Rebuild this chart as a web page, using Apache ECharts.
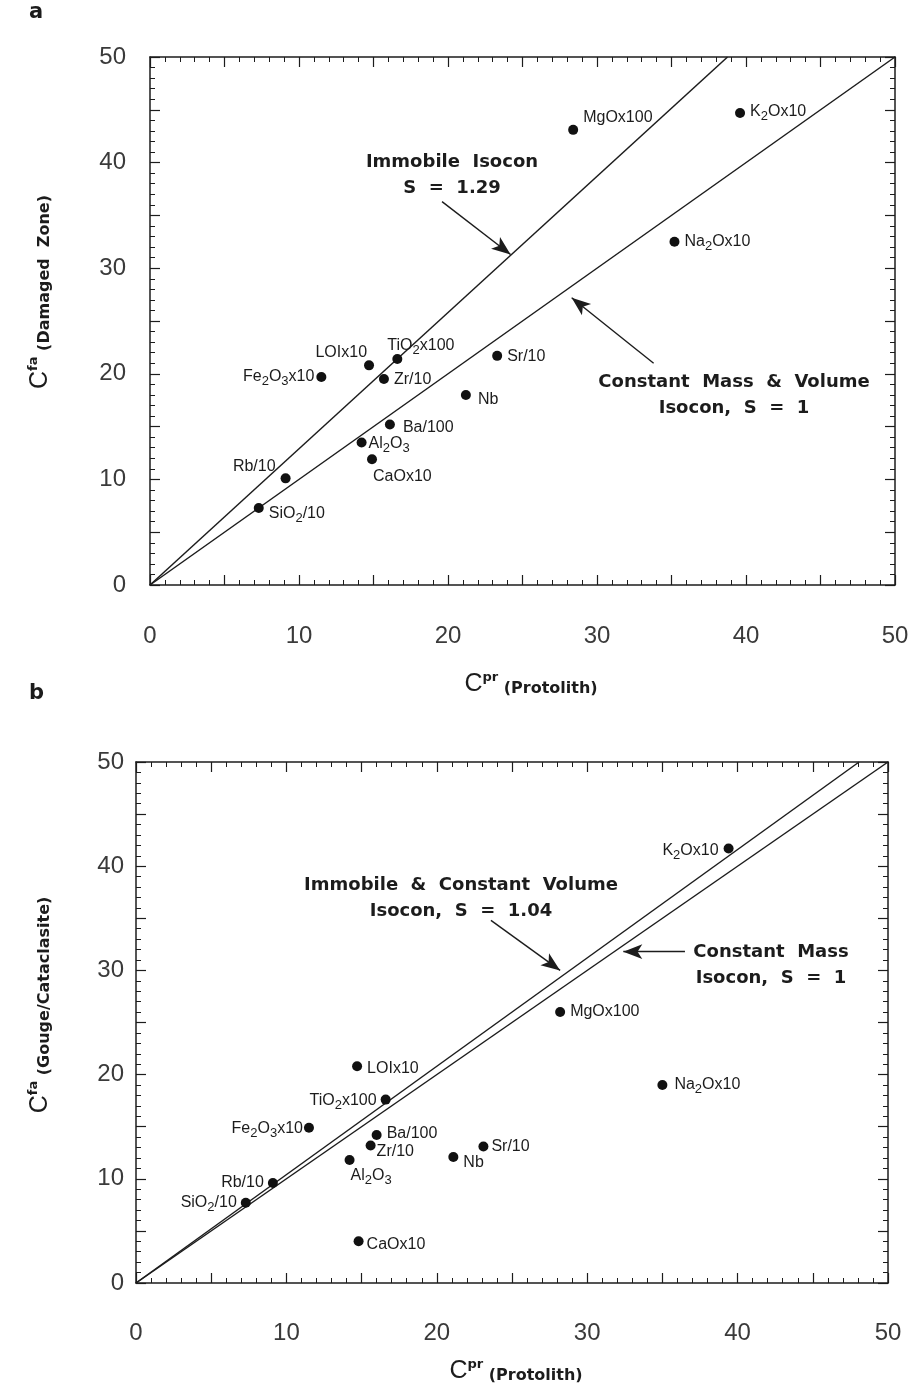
<!DOCTYPE html>
<html>
<head>
<meta charset="utf-8">
<script src="https://cdn.jsdelivr.net/npm/echarts@6/dist/echarts.min.js"></script>
<style>
  html, body { margin: 0; padding: 0; background: #ffffff; }
  #chart { width: 923px; height: 1386px; }
</style>
</head>
<body>
<div id="chart"></div>
<script>
// ---- data ----------------------------------------------------------------
const tickValues = [0, 10, 20, 30, 40, 50];

// panel a: protolith vs. damaged zone
const aLabels = ['MgOx100', 'K{s|2}Ox10', 'Na{s|2}Ox10', 'Sr/10', 'Nb', 'TiO{s|2}x100', 'LOIx10',
                 'Zr/10', 'Fe{s|2}O{s|3}x10', 'Ba/100', 'Al{s|2}O{s|3}', 'CaOx10', 'Rb/10', 'SiO{s|2}/10'];
const aProtolith = [28.4, 39.6, 35.2, 23.3, 21.2, 16.6, 14.7, 15.7, 11.5, 16.1, 14.2, 14.9, 9.1, 7.3];
const aDamaged   = [43.1, 44.7, 32.5, 21.7, 18.0, 21.4, 20.8, 19.5, 19.7, 15.2, 13.5, 11.9, 10.1, 7.3];
const aIsoconSlopes = [1.29, 1];

// panel b: protolith vs. gouge / cataclasite
const bLabels = ['LOIx10', 'TiO{s|2}x100', 'Fe{s|2}O{s|3}x10', 'Ba/100', 'Zr/10', 'Al{s|2}O{s|3}', 'Nb',
                 'Sr/10', 'Rb/10', 'SiO{s|2}/10', 'CaOx10', 'K{s|2}Ox10', 'MgOx100', 'Na{s|2}Ox10'];
const bProtolith = [14.7, 16.6, 11.5, 16.0, 15.6, 14.2, 21.1, 23.1, 9.1, 7.3, 14.8, 39.4, 28.2, 35.0];
const bGouge     = [20.8, 17.6, 14.9, 14.2, 13.2, 11.8, 12.1, 13.1, 9.6, 7.7, 4.0, 41.7, 26.0, 19.0];
const bIsoconSlopes = [1.04, 1];

// ---- label placement (pixel offsets from each dot) -----------------------
const aLabelPlace = [
  [10, -12, 'left'], [10, -1, 'left'], [10, 0, 'left'], [10, 1, 'left'], [12, 5, 'left'],
  [-10, -13, 'left'], [-2, -13, 'right'], [10, 1, 'left'], [-7, 0, 'right'], [13, 3, 'left'],
  [7, 1, 'left'], [1, 17, 'left'], [-10, -12, 'right'], [10, 6, 'left']
];
const bLabelPlace = [
  [10, 2, 'left'], [-9, 1, 'right'], [-6, 1, 'right'], [10, -1, 'left'], [6, 6, 'left'],
  [1, 16, 'left'], [10, 6, 'left'], [8, 0, 'left'], [-9, 0, 'right'], [-9, 0, 'right'],
  [8, 3, 'left'], [-10, 2, 'right'], [10, 0, 'left'], [12, 0, 'left']
];

// arrow annotations in axis units: [fromX, fromY, toX, toY]
const aArrows = [[19.6, 36.3, 24.2, 31.3], [33.8, 21.0, 28.3, 27.2]];
const bArrows = [[23.6, 34.8, 28.2, 30.0], [36.5, 31.8, 32.4, 31.8]];

// ---- styling helpers -----------------------------------------------------
const INK = '#1c1c1c';
const SANS = 'Liberation Sans, Arial, sans-serif';
const BOLD = 'DejaVu Sans, Verdana, sans-serif';
const AXIS_MAX = tickValues[tickValues.length - 1];

const grids = [
  { left: 150, top: 57, width: 745, height: 528 },
  { left: 136, top: 762, width: 752, height: 521 }
];

function tickLabel(v) {
  return tickValues.indexOf(v) >= 0 ? String(v) : '';
}

function makeAxis(gridIndex, position, withLabels, labelMargin) {
  return {
    type: 'value',
    gridIndex: gridIndex,
    position: position,
    min: 0,
    max: AXIS_MAX,
    interval: 5,
    splitLine: { show: false },
    axisLine: { show: true, onZero: false, lineStyle: { color: INK, width: 1.5 } },
    axisTick: { show: true, inside: true, length: 10, lineStyle: { color: INK, width: 1.2 } },
    minorTick: { show: true, splitNumber: 5, length: 5, lineStyle: { color: INK, width: 1 } },
    minorSplitLine: { show: false },
    axisLabel: withLabels ? {
      show: true,
      margin: labelMargin,
      formatter: tickLabel,
      fontFamily: SANS,
      fontSize: 24,
      color: '#3a3a3a',
      showMinLabel: true,
      showMaxLabel: true
    } : { show: false }
  };
}

// per grid: bottom / left carry the labels, top / right only the frame ticks
const xAxes = [
  makeAxis(0, 'bottom', true, 39),
  makeAxis(0, 'top', false, 0),
  makeAxis(1, 'bottom', true, 38),
  makeAxis(1, 'top', false, 0)
];
const yAxes = [
  makeAxis(0, 'left', true, 24),
  makeAxis(0, 'right', false, 0),
  makeAxis(1, 'left', true, 12),
  makeAxis(1, 'right', false, 0)
];
const PANEL_A_AXIS = 0;
const PANEL_B_AXIS = 2;

const pointRich = {
  s: { fontSize: 13, lineHeight: 10, verticalAlign: 'bottom', fontFamily: SANS, color: INK }
};

function pointSeries(axisIndex, xs, ys, labels, place) {
  return {
    type: 'scatter',
    xAxisIndex: axisIndex,
    yAxisIndex: axisIndex,
    symbol: 'circle',
    symbolSize: 10,
    itemStyle: { color: '#111', opacity: 1 },
    silent: true,
    z: 5,
    data: xs.map(function (x, i) {
      const p = place[i];
      return {
        value: [x, ys[i]],
        label: {
          show: true,
          position: 'inside',
          offset: [p[0], p[1]],
          align: p[2],
          verticalAlign: 'middle',
          formatter: labels[i],
          fontFamily: SANS,
          fontSize: 16,
          lineHeight: 22,
          color: INK,
          rich: pointRich
        }
      };
    })
  };
}

function isoconSeries(axisIndex, slope, arrows) {
  // line through the origin, clipped where it leaves the plot box
  const endX = Math.min(AXIS_MAX, AXIS_MAX / slope);
  const s = {
    type: 'line',
    xAxisIndex: axisIndex,
    yAxisIndex: axisIndex,
    showSymbol: false,
    symbol: 'none',
    silent: true,
    lineStyle: { color: INK, width: 1.5, opacity: 1 },
    data: [[0, 0], [endX, endX * slope]],
    z: 3
  };
  if (arrows) {
    s.markLine = {
      silent: true,
      animation: false,
      symbol: ['none', 'arrow'],
      symbolSize: [11, 19],
      lineStyle: { color: INK, width: 1.4, type: 'solid', opacity: 1 },
      label: { show: false },
      data: arrows.map(function (a) {
        return [{ coord: [a[0], a[1]] }, { coord: [a[2], a[3]] }];
      })
    };
  }
  return s;
}

const series = [
  isoconSeries(PANEL_A_AXIS, aIsoconSlopes[0], aArrows),
  isoconSeries(PANEL_A_AXIS, aIsoconSlopes[1], null),
  isoconSeries(PANEL_B_AXIS, bIsoconSlopes[0], bArrows),
  isoconSeries(PANEL_B_AXIS, bIsoconSlopes[1], null),
  pointSeries(PANEL_A_AXIS, aProtolith, aDamaged, aLabels, aLabelPlace),
  pointSeries(PANEL_B_AXIS, bProtolith, bGouge, bLabels, bLabelPlace)
];

// ---- text: panel letters, axis titles, isocon notes ----------------------
const titleRich = {
  c: { fontFamily: SANS, fontSize: 25, lineHeight: 26, color: INK },
  sup: { fontFamily: BOLD, fontWeight: 'bold', fontSize: 13, lineHeight: 12, verticalAlign: 'top', color: INK },
  p: { fontFamily: BOLD, fontWeight: 'bold', fontSize: 16, lineHeight: 21, verticalAlign: 'bottom', color: INK }
};

function titleText(x, y, text, rotate) {
  return {
    type: 'text',
    x: x, y: y,
    rotation: rotate ? Math.PI / 2 : 0,
    silent: true,
    style: { text: text, rich: titleRich, align: 'center', verticalAlign: 'middle', fill: INK }
  };
}

function noteText(x, y, text) {
  return {
    type: 'text',
    x: x, y: y,
    silent: true,
    style: {
      text: text,
      align: 'center',
      verticalAlign: 'middle',
      fontFamily: BOLD,
      fontWeight: 'bold',
      fontSize: 18,
      lineHeight: 26,
      fill: INK
    }
  };
}

function panelLetter(x, y, t) {
  return {
    type: 'text', x: x, y: y, silent: true,
    style: { text: t, fontFamily: BOLD, fontWeight: 'bold', fontSize: 21, fill: INK, verticalAlign: 'middle' }
  };
}

const graphics = [
  panelLetter(29, 13, 'a'),
  panelLetter(29, 694, 'b'),
  titleText(531, 684, '{c|C}{sup|pr}{p| (Protolith)}', false),
  titleText(516, 1371, '{c|C}{sup|pr}{p| (Protolith)}', false),
  titleText(40, 292, '{c|C}{sup|fa}{p| (Damaged  Zone)}', true),
  titleText(40, 1005, '{c|C}{sup|fa}{p| (Gouge/Cataclasite)}', true),
  noteText(452, 175, 'Immobile  Isocon\nS  =  1.29'),
  noteText(734, 395, 'Constant  Mass  &  Volume\nIsocon,  S  =  1'),
  noteText(461, 898, 'Immobile  &  Constant  Volume\nIsocon,  S  =  1.04'),
  noteText(771, 965, 'Constant  Mass\nIsocon,  S  =  1')
];

const chart = echarts.init(document.getElementById('chart'), null, { renderer: 'canvas' });
chart.setOption({
  animation: false,
  backgroundColor: '#ffffff',
  grid: grids.map(function (g) {
    return Object.assign({ containLabel: false, outerBoundsMode: 'none' }, g);
  }),
  xAxis: xAxes,
  yAxis: yAxes,
  series: series,
  graphic: graphics
});
</script>
</body>
</html>
